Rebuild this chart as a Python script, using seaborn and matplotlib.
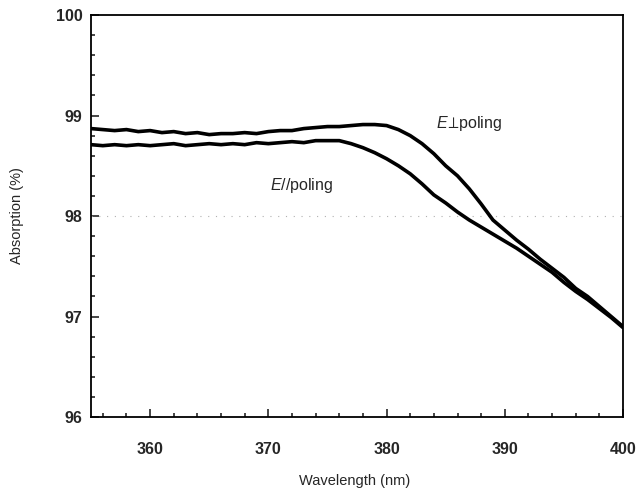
import numpy as np
import matplotlib
matplotlib.use("Agg")
import matplotlib.pyplot as plt
import seaborn as sns
from matplotlib.ticker import MultipleLocator

wavelength = list(range(355, 401))

# E perpendicular to poling (upper curve)
absorb_perp = [98.87, 98.86, 98.85, 98.86, 98.84, 98.85, 98.83, 98.84, 98.82, 98.83,
               98.81, 98.82, 98.82, 98.83, 98.82, 98.84, 98.85, 98.85, 98.87, 98.88,
               98.89, 98.89, 98.90, 98.91, 98.91, 98.90, 98.86, 98.80, 98.72, 98.62,
               98.50, 98.40, 98.27, 98.12, 97.96, 97.86, 97.76, 97.67, 97.57, 97.48,
               97.39, 97.28, 97.20, 97.10, 97.00, 96.90]

# E parallel to poling (lower curve)
absorb_par = [98.71, 98.70, 98.71, 98.70, 98.71, 98.70, 98.71, 98.72, 98.70, 98.71,
              98.72, 98.71, 98.72, 98.71, 98.73, 98.72, 98.73, 98.74, 98.73, 98.75,
              98.75, 98.75, 98.72, 98.68, 98.63, 98.57, 98.50, 98.42, 98.32, 98.21,
              98.13, 98.04, 97.96, 97.89, 97.82, 97.75, 97.68, 97.60, 97.52, 97.44,
              97.34, 97.25, 97.17, 97.08, 96.99, 96.89]

sns.set_style("ticks")
plt.rcParams['font.family'] = ['Liberation Sans', 'DejaVu Sans']
plt.rcParams['mathtext.fontset'] = 'custom'
plt.rcParams['mathtext.it'] = 'Liberation Sans:italic'
plt.rcParams['mathtext.rm'] = 'Liberation Sans'
plt.rcParams['mathtext.fallback'] = 'stixsans'

fig = plt.figure(figsize=(6.39, 4.93), dpi=100)
ax = fig.add_axes([0.1424, 0.154, 0.8326, 0.8156])

ax.axhline(98, color='#b0b0b0', linestyle=(0, (1, 6)), linewidth=0.8, zorder=1)

sns.lineplot(x=wavelength, y=absorb_perp, ax=ax, color='black', linewidth=2.6)
sns.lineplot(x=wavelength, y=absorb_par, ax=ax, color='black', linewidth=2.6)

ax.set_xlim(355, 400)
ax.set_ylim(96, 100)
ax.xaxis.set_minor_locator(MultipleLocator(2))
ax.yaxis.set_major_locator(MultipleLocator(1))
ax.yaxis.set_minor_locator(MultipleLocator(0.2))
ax.set_xticks([360, 370, 380, 390, 400])

ax.tick_params(which='both', direction='in', width=1.2, top=False, right=False)
ax.tick_params(which='major', length=6)
ax.tick_params(which='minor', length=3)
ax.tick_params(axis='x', which='major', pad=18, labelsize=11.5)
ax.tick_params(axis='y', which='major', pad=6, labelsize=11.5)
for lbl in ax.get_xticklabels() + ax.get_yticklabels():
    lbl.set_fontweight('bold')

for s in ax.spines.values():
    s.set_linewidth(1.3)
    s.set_color('black')

ax.set_xlabel('Wavelength (nm)', fontsize=10.5, va='top')
ax.set_ylabel('Absorption (%)', fontsize=10.5)
ax.xaxis.set_label_coords(0.496, -0.142)
ax.yaxis.set_label_coords(-0.126, 0.502)

ax.text(384.2, 98.92, r'$E\!{\perp}\!$poling', fontsize=11.5, ha='left', va='center')
ax.text(370.1, 98.30, r'$E$//poling', fontsize=11.5, ha='left', va='center')

plt.savefig('out.png', dpi=100)
